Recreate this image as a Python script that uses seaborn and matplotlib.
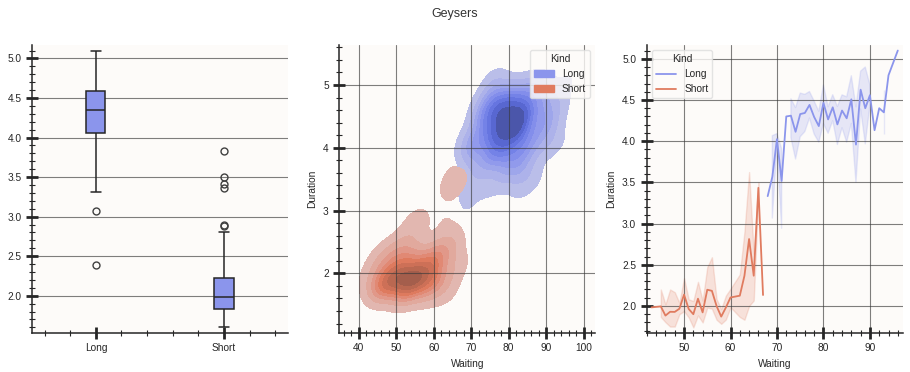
import numpy as np
import pandas as pd
import seaborn as sns
import matplotlib.pyplot as plt

# Old Faithful eruptions: duration (min) and waiting time (min)
duration = [
    3.600, 1.800, 3.333, 2.283, 4.533, 2.883, 4.700, 3.600, 1.950, 4.350, 1.833, 3.917,
    4.200, 1.750, 4.700, 2.167, 1.750, 4.800, 1.600, 4.250, 1.800, 1.750, 3.450, 3.067,
    4.533, 3.600, 1.967, 4.083, 3.850, 4.433, 4.300, 4.467, 3.367, 4.033, 3.833, 2.017,
    1.867, 4.833, 1.833, 4.783, 4.350, 1.883, 4.567, 1.750, 4.533, 3.317, 3.833, 2.100,
    4.633, 2.000, 4.800, 4.716, 1.833, 4.833, 1.733, 4.883, 3.717, 1.667, 4.567, 4.317,
    2.233, 4.500, 1.750, 4.800, 1.817, 4.400, 4.167, 4.700, 2.067, 4.700, 4.033, 1.967,
    4.500, 4.000, 1.983, 5.067, 2.017, 4.567, 3.883, 3.600, 4.133, 4.333, 4.100, 2.633,
    4.067, 4.933, 3.950, 4.517, 2.167, 4.000, 2.200, 4.333, 1.867, 4.817, 1.833, 4.300,
    4.667, 3.750, 1.867, 4.900, 2.483, 4.367, 2.100, 4.500, 4.050, 1.867, 4.700, 1.783,
    4.850, 3.683, 4.733, 2.300, 4.900, 4.417, 1.700, 4.633, 2.317, 4.600, 1.817, 4.417,
    2.617, 4.067, 4.250, 1.967, 4.600, 3.767, 1.917, 4.500, 2.267, 4.650, 1.867, 4.167,
    2.800, 4.333, 1.833, 4.383, 1.883, 4.933, 2.033, 3.733, 4.233, 2.233, 4.533, 4.817,
    4.333, 1.983, 4.633, 2.017, 5.100, 1.800, 5.033, 4.000, 2.400, 4.600, 3.567, 4.000,
    4.500, 4.083, 1.800, 3.967, 2.200, 4.150, 2.000, 3.833, 3.500, 4.583, 2.367, 5.000,
    1.933, 4.617, 1.917, 2.083, 4.583, 3.333, 4.167, 4.333, 4.500, 2.417, 4.000, 4.167,
    1.883, 4.583, 4.250, 3.767, 2.033, 4.433, 4.083, 1.833, 4.417, 2.183, 4.800, 1.833,
    4.800, 4.100, 3.966, 4.233, 3.500, 4.366, 2.250, 4.667, 2.100, 4.350, 4.133, 1.867,
    4.600, 1.783, 4.367, 3.850, 1.933, 4.500, 2.383, 4.700, 1.867, 3.833, 3.417, 4.233,
    2.400, 4.800, 2.000, 4.150, 1.867, 4.267, 1.750, 4.483, 4.000, 4.117, 4.083, 4.267,
    3.917, 4.550, 4.083, 2.417, 4.183, 2.217, 4.450, 1.883, 1.850, 4.283, 3.950, 2.333,
    4.150, 2.350, 4.933, 2.900, 4.583, 3.833, 2.083, 4.367, 2.133, 4.350, 2.200, 4.450,
    3.567, 4.500, 4.150, 3.817, 3.917, 4.450, 2.000, 4.283, 4.767, 4.533, 1.850, 4.250,
    1.983, 2.250, 4.750, 4.117, 2.150, 4.417, 1.817, 4.467,
]
waiting = [
    79, 54, 74, 62, 85, 55, 88, 85, 51, 85, 54, 84, 78, 47, 83, 52, 62, 84, 52, 79, 51, 47, 78, 69,
    74, 83, 55, 76, 78, 79, 73, 77, 66, 80, 74, 52, 48, 80, 59, 90, 80, 58, 84, 58, 73, 83, 64, 53,
    82, 59, 75, 90, 54, 80, 54, 83, 71, 64, 77, 81, 59, 84, 48, 82, 60, 92, 78, 78, 65, 73, 82, 56,
    79, 71, 62, 76, 60, 78, 76, 83, 75, 82, 70, 65, 73, 88, 76, 80, 48, 86, 60, 90, 50, 78, 63, 72,
    84, 75, 51, 82, 62, 88, 49, 83, 81, 47, 84, 52, 86, 81, 75, 59, 89, 79, 59, 81, 50, 85, 59, 87,
    53, 69, 77, 56, 88, 81, 45, 82, 55, 90, 45, 83, 56, 89, 46, 82, 51, 86, 53, 79, 81, 60, 82, 77,
    76, 59, 80, 49, 96, 53, 77, 77, 65, 81, 71, 70, 81, 93, 53, 89, 45, 86, 58, 78, 66, 76, 63, 88,
    52, 93, 49, 57, 77, 68, 81, 81, 73, 50, 85, 74, 55, 77, 83, 83, 51, 78, 84, 46, 83, 55, 81, 57,
    76, 84, 77, 81, 87, 77, 51, 78, 60, 82, 91, 53, 78, 46, 77, 84, 49, 83, 71, 80, 49, 75, 64, 76,
    53, 94, 55, 76, 50, 82, 54, 75, 78, 79, 78, 78, 70, 79, 70, 54, 86, 50, 90, 54, 54, 77, 79, 64,
    75, 47, 86, 63, 85, 82, 57, 82, 67, 74, 54, 83, 73, 73, 88, 80, 71, 83, 56, 79, 78, 84, 58, 83,
    43, 60, 75, 81, 46, 90, 46, 74,
]
kind_names = ["Long", "Short"]
kind_colors = ["#8b95ec", "#e07b5f"]
long_from = 68  # eruptions after a wait of 68 min or more are "Long"

geyser = pd.DataFrame({"Duration": duration, "Waiting": waiting})
geyser["Kind"] = np.where(geyser["Waiting"] >= long_from, kind_names[0], kind_names[1])
palette = dict(zip(kind_names, kind_colors))

sns.set_theme(style="ticks", rc={
    "axes.facecolor": "#fdfbf9",
    "axes.edgecolor": ".15",
    "axes.linewidth": 1.1,
    "axes.grid": True,
    "axes.axisbelow": "line",
    "grid.color": "#3a3a3a",
    "grid.alpha": 0.65,
    "grid.linewidth": 0.8,
    "axes.xmargin": 0.02,
    "axes.ymargin": 0.02,
    "xtick.minor.visible": True,
    "ytick.minor.visible": True,
    "xtick.direction": "inout",
    "ytick.direction": "inout",
    "xtick.major.size": 8, "ytick.major.size": 8,
    "xtick.major.width": 2, "ytick.major.width": 2,
    "xtick.minor.size": 4, "ytick.minor.size": 4,
    "xtick.minor.width": 0.8, "ytick.minor.width": 0.8,
    "xtick.labelsize": 7.3, "ytick.labelsize": 7.3,
    "axes.labelsize": 7.3,
    "legend.fontsize": 7.3, "legend.title_fontsize": 7.3,
    "legend.edgecolor": "#dddddd",
})
plt.rcParams["font.family"] = ["Liberation Sans", "DejaVu Sans"]

fig, axs = plt.subplots(1, 3, figsize=(9.1, 3.72), dpi=100)
fig.subplots_adjust(left=0.035, right=0.992, bottom=0.105, top=0.879, wspace=0.2)
fig.suptitle("Geysers", fontsize=9, color=".2", y=0.978)

# box plot of durations
sns.boxplot(data=geyser, x="Kind", y="Duration", order=kind_names, color=kind_colors[0],
            saturation=1, width=0.15, linecolor=".15", linewidth=1.1,
            flierprops={"marker": "o", "markerfacecolor": "none",
                        "markeredgecolor": ".25", "markersize": 5},
            ax=axs[0])
axs[0].set(xlabel="", ylabel="")

# bivariate kde
sns.kdeplot(data=geyser, x="Waiting", y="Duration", hue="Kind", hue_order=kind_names,
            palette=palette, fill=True, ax=axs[1])
sns.move_legend(axs[1], "upper right", frameon=True)

# mean duration per waiting time
sns.lineplot(data=geyser, x="Waiting", y="Duration", hue="Kind", hue_order=kind_names,
             palette=palette, linewidth=1.3, seed=0, ax=axs[2])
sns.move_legend(axs[2], "upper left", frameon=True)

for ax in axs:
    sns.despine(ax=ax)

plt.savefig("out.png", dpi=100)
